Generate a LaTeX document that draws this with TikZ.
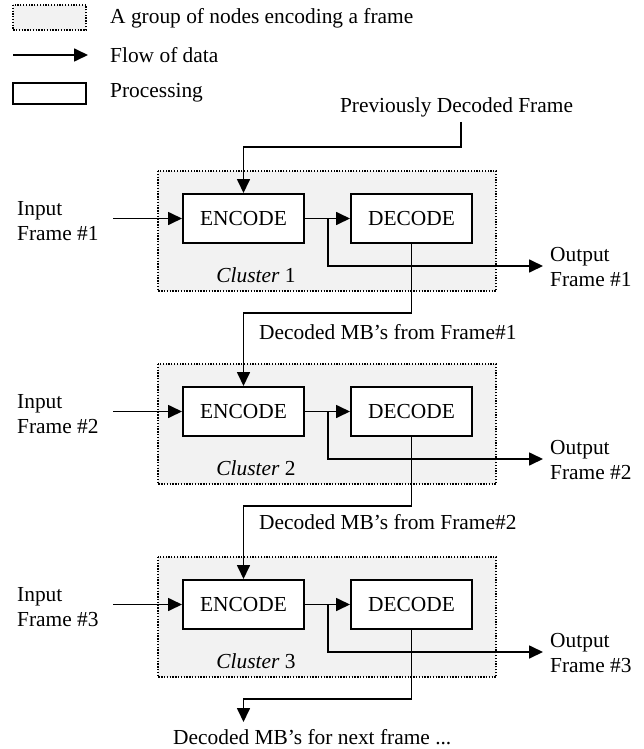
\documentclass[tikz,border=0pt]{standalone}
\usepackage{fontspec}
\setmainfont{Liberation Serif}
\usetikzlibrary{arrows.meta,positioning}

\tikzset{
  every node/.style={font=\fontsize{21.4}{25}\selectfont, inner sep=0pt},
  flow/.style={line width=1.7pt, -{Triangle[length=14pt,width=13pt]}},
  wire/.style={line width=1.7pt},
  procbox/.style={draw, line width=2pt, fill=white, minimum width=121pt, minimum height=49pt},
  clusterbox/.style={draw, line width=1.4pt, dash pattern=on 1.3pt off 1.5pt, fill=black!5},
  lbl/.style={align=left, anchor=west},
}

\begin{document}
\begin{tikzpicture}[x=1pt, y=-1pt]
\useasboundingbox (0,0) rectangle (644,749);

% legend
\draw[clusterbox] (13,5) rectangle (86,30);
\node[lbl] (lg1) at (110,18) {A group of nodes encoding a frame};
\coordinate (la) at (13,55);
\coordinate (lb) at (88,55);
\draw[flow] (la) -- (lb);
\node[lbl] (lg2) at (110,55) {Flow of data};
\draw[line width=2pt] (13,83) rectangle (86,104);
\node[lbl] (lg3) at (110,93) {Processing};

% three clusters, each with an encoder and a decoder
\foreach \k/\T in {1/171, 2/364, 3/557} {
  \draw[clusterbox] (158,\T) rectangle (496,\T+120);
  \node[procbox] (enc\k) at (243.5,\T+47.5) {ENCODE};
  \node[procbox] (dec\k) at (411.5,\T+47.5) {DECODE};
  \node (cl\k) at (256,\T+104) {\textit{Cluster} \k};
  \node[lbl] (in\k) at (17,\T+50) {Input\\Frame \#\k};
  \node[lbl] (out\k) at (550,\T+96) {Output\\Frame \#\k};
  \coordinate (src\k) at (113,\T+47.5);
  \coordinate (br\k) at (328,\T+47.5);
  \coordinate (ot\k) at (543,\T+95);
  \coordinate (dn\k) at (411.5,\T+142);
  \coordinate (dl\k) at (243.5,\T+142);
  \draw[flow] (src\k) -- (enc\k.west);
  \draw[flow] (enc\k.east) -- (dec\k.west);
  \draw[flow] (br\k) |- (ot\k);
}

% previously decoded frame into cluster 1
\node (prev) at (456.5,107) {Previously Decoded Frame};
\coordinate (pa) at (461,122);
\coordinate (pb) at (461,147);
\draw[flow] (pa) -- (pb) -| (enc1.north);

% decoded macroblocks handed on to the next cluster
\draw[wire] (dec1.south) -- (dn1);
\draw[flow] (dn1) -- (dl1) -- (enc2.north);
\node[anchor=west] (mb1) at (259,332) {Decoded MB’s from Frame\#1};
\draw[wire] (dec2.south) -- (dn2);
\draw[flow] (dn2) -- (dl2) -- (enc3.north);
\node[anchor=west] (mb2) at (259,522) {Decoded MB’s from Frame\#2};
\draw[wire] (dec3.south) -- (dn3);
\coordinate (end) at (243.5,722);
\draw[flow] (dn3) -- (dl3) -- (end);
\node[anchor=west] (mb3) at (173,737) {Decoded MB’s for next frame ...};
\end{tikzpicture}
\end{document}
